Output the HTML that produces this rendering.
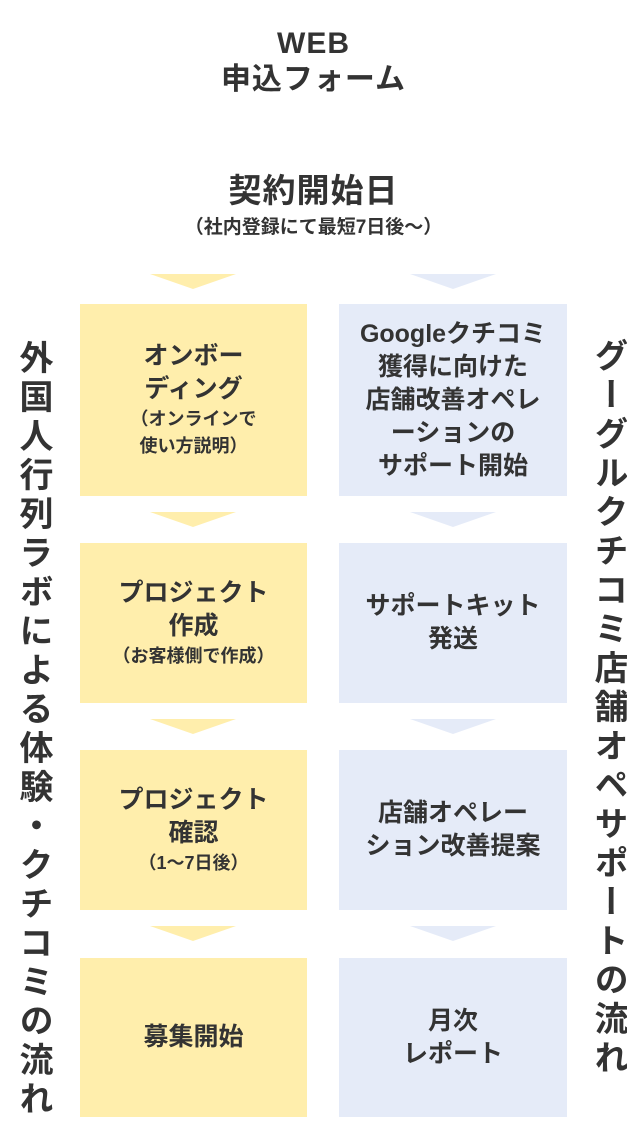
<!DOCTYPE html>
<html><head><meta charset="utf-8"><style>
body{margin:0;width:627px;height:1127px;background:#fff;position:relative;overflow:hidden;font-family:"Liberation Sans","Noto Sans CJK JP",sans-serif;color:#333;font-weight:bold}
.a{position:absolute;text-align:center}
.box{position:absolute;display:flex;flex-direction:column;justify-content:center;align-items:center;text-align:center;font-size:25px;line-height:33px;letter-spacing:0}
.y{background:#ffeeac;left:80px;width:227px}
.b{background:#e5ebf8;left:339px;width:228px}
.s{font-size:18px;line-height:27px;letter-spacing:0}
.t{position:absolute;width:0;height:0;border-left:43px solid transparent;border-right:43px solid transparent;border-top:15px solid}
.ty{border-top-color:#ffeeac;left:150px}
.tb{border-top-color:#e5ebf8;left:410px}
.v{position:absolute;writing-mode:vertical-rl;font-size:34px;letter-spacing:5px;line-height:40px}
</style></head><body>
<div class="a" style="left:0;width:627px;top:26px;font-size:30px;line-height:36px;letter-spacing:1px">WEB<br>申込フォーム</div>
<div class="a" style="left:0;width:627px;top:171px;font-size:33px;line-height:40px;letter-spacing:1px">契約開始日</div>
<div class="a" style="left:0;width:627px;top:216px;font-size:19px;line-height:24px">（社内登録にて最短7日後〜）</div>

<div class="t ty" style="top:274px"></div><div class="t tb" style="top:274px"></div>
<div class="box y" style="top:304px;height:192px">オンボー<br>ディング<div class="s">（オンラインで<br>使い方説明）</div></div>
<div class="box b" style="top:304px;height:192px">Googleクチコミ<br>獲得に向けた<br>店舗改善オペレ<br>ーションの<br>サポート開始</div>

<div class="t ty" style="top:512px"></div><div class="t tb" style="top:512px"></div>
<div class="box y" style="top:543px;height:160px">プロジェクト<br>作成<div class="s">（お客様側で作成）</div></div>
<div class="box b" style="top:543px;height:160px">サポートキット<br>発送</div>

<div class="t ty" style="top:719px"></div><div class="t tb" style="top:719px"></div>
<div class="box y" style="top:750px;height:160px">プロジェクト<br>確認<div class="s">（1〜7日後）</div></div>
<div class="box b" style="top:750px;height:160px">店舗オペレー<br>ション改善提案</div>

<div class="t ty" style="top:926px"></div><div class="t tb" style="top:926px"></div>
<div class="box y" style="top:958px;height:159px">募集開始</div>
<div class="box b" style="top:958px;height:159px">月次<br>レポート</div>

<div class="v" style="left:13px;top:340px">外国人行列ラボによる体験・クチコミの流れ</div>
<div class="v" style="left:588px;top:338px">グーグルクチコミ店舗オペサポートの流れ</div>
</body></html>
